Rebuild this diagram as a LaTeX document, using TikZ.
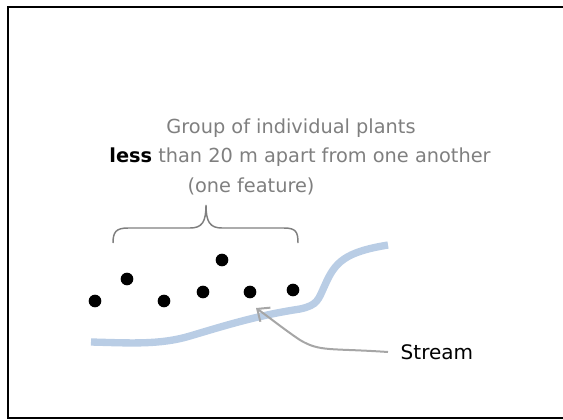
\documentclass[tikz,border=0pt]{standalone}
\usepackage{fontspec}
\setmainfont{DejaVu Sans}
\usetikzlibrary{arrows.meta}
\definecolor{streamblue}{HTML}{B9CDE5}
\definecolor{labelgray}{HTML}{7F7F7F}
\definecolor{arrowgray}{HTML}{A6A6A6}
\begin{document}
\begin{tikzpicture}[x=0.75pt,y=-0.75pt,
  plant/.style={circle,fill=black,inner sep=0pt,minimum size=9.5pt},
  caption/.style={text=labelgray,font=\fontsize{14.5}{21.75}\selectfont,inner sep=0pt},
  pointer/.style={draw=arrowgray,line width=1.5pt,-{Straight Barb[length=7.5pt,width=13pt]}},
  bracestyle/.style={draw=labelgray,line width=1.1pt}]
\useasboundingbox (0,0) rectangle (563,419);
\draw[line width=1.5pt] (7.5,419) -- (7.5,6.5) -- (563,6.5);
\draw[line width=1.5pt] (7.5,418) -- (563,418);
% stream
\draw[streamblue,line width=5.5pt] (91,342) .. controls (130,343) and (160,345) .. (190,336)
  .. controls (230,324) and (260,315) .. (300,309)
  .. controls (318,305) and (318,300) .. (325,285)
  .. controls (335,262) and (345,252) .. (388,245);
% plants
\node[plant] (p1) at (95,301) {};
\node[plant] (p2) at (127,279) {};
\node[plant] (p3) at (164,301) {};
\node[plant] (p4) at (203,292) {};
\node[plant] (p5) at (222,260) {};
\node[plant] (p6) at (250,292) {};
\node[plant] (p7) at (293,290) {};
% brace
\coordinate (bl) at (113,243);
\coordinate (br) at (298,243);
\coordinate (bt) at (206,205);
\draw[bracestyle] (bl) .. controls (113,232) and (116,228) .. (128,228) -- (190,228)
  .. controls (202,228) and (206,222) .. (bt)
  .. controls (206,222) and (210,228) .. (222,228) -- (284,228)
  .. controls (296,228) and (298,232) .. (br);
% caption
\node[caption] (cap1) at (291,128) {Group of individual plants};
\node[caption] (cap2) at (300,157) {{\color{black}\bfseries less} than 20 m apart from one another};
\node[caption] (cap3) at (251,186) {(one feature)};
% stream label and arrow
\node[anchor=west,font=\fontsize{15}{18}\selectfont] (st) at (396,352) {Stream};
\coordinate (tip) at (256,308);
\draw[pointer] ([xshift=-6pt]st.west) .. controls (330,348) and (320,352) .. (300,340) .. controls (285,330) and (270,318) .. (tip);
\end{tikzpicture}
\end{document}
